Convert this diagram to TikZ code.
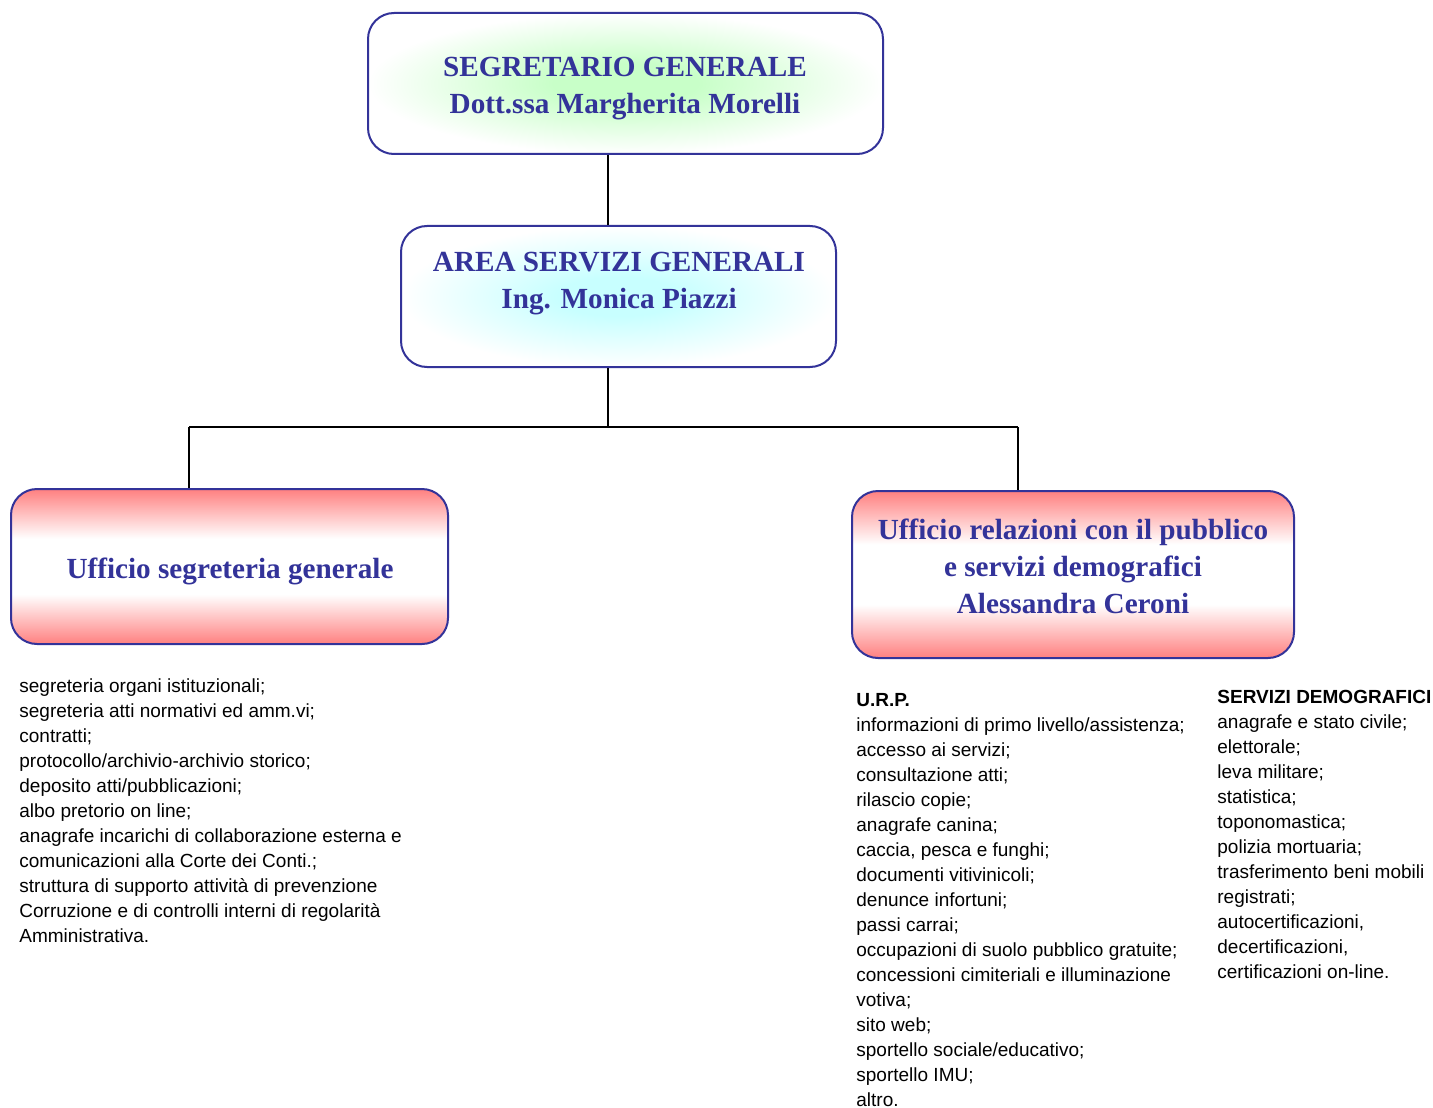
\documentclass[tikz,border=0pt]{standalone}
\usepackage{fontspec}
\setmainfont{Liberation Serif}
\setsansfont{Liberation Sans}

\definecolor{titleblue}{RGB}{51,51,153}
\definecolor{boxred}{RGB}{255,128,128}
\definecolor{glowgreen}{RGB}{200,255,200}
\definecolor{glowcyan}{RGB}{200,255,255}

\pgfdeclareverticalshading{redband}{100bp}{color(0bp)=(boxred); color(25bp)=(boxred); color(41bp)=(white); color(59bp)=(white); color(75bp)=(boxred); color(100bp)=(boxred)}
\pgfdeclareradialshading{greenglow}{\pgfpoint{0bp}{0bp}}{color(0bp)=(glowgreen); color(7bp)=(glowgreen); color(25bp)=(white); color(50bp)=(white)}
\pgfdeclareradialshading{cyanglow}{\pgfpoint{0bp}{0bp}}{color(0bp)=(glowcyan); color(7bp)=(glowcyan); color(25bp)=(white); color(50bp)=(white)}

\newcommand\titlefont{\fontsize{14.6pt}{18.5pt}\selectfont\bfseries}
\newcommand\listfont{\fontsize{9.5pt}{12.5pt}\selectfont\sffamily}

\tikzset{
  office/.style={draw=titleblue, line width=1pt, rounded corners=13pt, inner sep=0pt, shade},
  title/.style={font=\titlefont, text=titleblue, align=center, inner sep=0pt},
  item/.style={font=\listfont, anchor=base west, inner sep=0pt},
  wire/.style={line width=0.7pt}
}

\begin{document}
\begin{tikzpicture}[x=0.5pt, y=-0.5pt]
  \useasboundingbox (0,0) rectangle (1433,1107);

  % boxes
  \node[office, shading=greenglow, minimum width=257.5pt, minimum height=70.5pt] (segr) at (625.5,83.5) {};
  \node[office, shading=cyanglow, minimum width=217.5pt, minimum height=70.5pt] (area) at (618.5,296.5) {};
  \node[office, shading=redband, minimum width=218.5pt, minimum height=77.5pt] (usg) at (229.5,566.5) {};
  \node[office, shading=redband, minimum width=221pt, minimum height=83.5pt] (urp) at (1073,574.5) {};

  \node[title] (segr-t) at (625,89) {SEGRETARIO GENERALE\\Dott.ssa Margherita Morelli};
  \node[title] (area-t) at (619,284) {AREA SERVIZI GENERALI\\Ing. Monica Piazzi};
  \node[title] (usg-t) at (230,571) {Ufficio segreteria generale};
  \node[title] (urp-t) at (1073,566) {Ufficio relazioni con il pubblico\\e servizi demografici\\Alessandra Ceroni};

  % connectors
  \coordinate (hub) at (608,427);
  \coordinate (ltap) at (189,427);
  \coordinate (rtap) at (1018,427);
  \draw[wire] (segr.south -| hub) -- (area.north -| hub);
  \draw[wire] (area.south -| hub) -- (hub);
  \draw[wire] (ltap) -- (rtap);
  \draw[wire] (ltap) -- (ltap |- usg.north);
  \draw[wire] (rtap) -- (rtap |- urp.north);

  % lists
  \foreach \txt [count=\i from 0] in {segreteria organi istituzionali;, segreteria atti normativi ed amm.vi;, contratti;,
      protocollo/archivio-archivio storico;, deposito atti/pubblicazioni;, albo pretorio on line;,
      anagrafe incarichi di collaborazione esterna e, comunicazioni alla Corte dei Conti.;,
      struttura di supporto attività di prevenzione, Corruzione e di controlli interni di regolarità,
      Amministrativa.}
    \node[item] (seg-\i) at (19,692+25*\i) {\txt};

  \node[item, font=\listfont\bfseries] (urp-h) at (856,706) {U.R.P.};
  \foreach \txt [count=\i from 0] in {informazioni di primo livello/assistenza;, accesso ai servizi;, consultazione atti;,
      rilascio copie;, anagrafe canina;, {caccia, pesca e funghi;}, documenti vitivinicoli;, denunce infortuni;,
      passi carrai;, occupazioni di suolo pubblico gratuite;, concessioni cimiteriali e illuminazione, votiva;,
      sito web;, sportello sociale/educativo;, sportello IMU;, altro.}
    \node[item] (urp-\i) at (856,731+25*\i) {\txt};

  \node[item, font=\listfont\bfseries] (demo-h) at (1217,703) {SERVIZI DEMOGRAFICI};
  \foreach \txt [count=\i from 0] in {anagrafe e stato civile;, elettorale;, leva militare;, statistica;, toponomastica;,
      polizia mortuaria;, trasferimento beni mobili, registrati;, {autocertificazioni,}, {decertificazioni,},
      certificazioni on-line.}
    \node[item] (demo-\i) at (1217,728+25*\i) {\txt};
\end{tikzpicture}
\end{document}
